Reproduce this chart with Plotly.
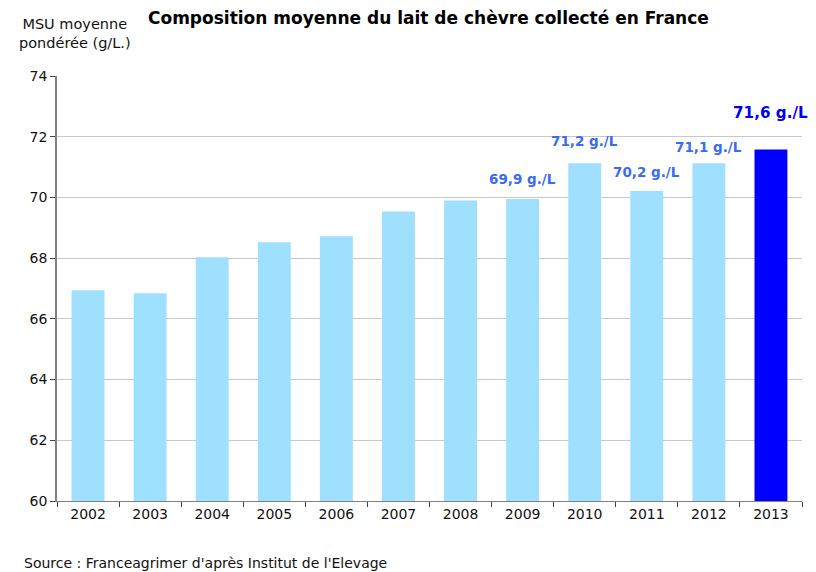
import plotly.graph_objects as go

years = ["2002", "2003", "2004", "2005", "2006", "2007", "2008", "2009", "2010", "2011", "2012", "2013"]
msu = [66.94, 66.84, 68.03, 68.52, 68.72, 69.54, 69.9, 69.95, 71.13, 70.21, 71.13, 71.58]
labels = ["", "", "", "", "", "", "", "69,9 g./L", "71,2 g./L", "70,2 g./L", "71,1 g./L", "71,6 g./L"]
y_ticks = [60, 62, 64, 66, 68, 70, 72, 74]

light = "#9FDFFF"
dark = "#0000FF"
colors = [dark if y == "2013" else light for y in years]
FONT = "DejaVu Sans, Arial"

fig = go.Figure()
fig.add_trace(go.Bar(x=years, y=msu, marker=dict(color=colors, line=dict(width=0)),
                     hoverinfo="x+y"))

shifts = {"2009": 20, "2010": 22, "2011": 19, "2012": 16, "2013": 36}
for i, (yr, v, lab) in enumerate(zip(years, msu, labels)):
    if not lab:
        continue
    big = yr == "2013"
    fig.add_annotation(x=i, y=v, xref="x", yref="y", text="<b>%s</b>" % lab,
                       showarrow=False, yshift=shifts[yr], yanchor="middle",
                       font=dict(family=FONT, size=15.2 if big else 13.5,
                                 color="#0000EE" if big else "#3A6BF0"))

fig.add_annotation(text="<b>Composition moyenne du lait de chèvre collecté en France</b>",
                   xref="paper", yref="paper", x=(428 - 57) / 745, y=(501 - 18) / 425,
                   showarrow=False, yanchor="middle", xanchor="center",
                   font=dict(family=FONT, size=17, color="#000"))
fig.add_annotation(text="MSU moyenne<br>pondérée (g/L.)", xref="paper", yref="paper",
                   x=(75 - 57) / 745, y=(501 - 33) / 425, showarrow=False,
                   xanchor="center", yanchor="middle", align="center",
                   font=dict(family=FONT, size=14.5, color="#111"))
fig.add_annotation(text="Source : Franceagrimer d'après Institut de l'Elevage", xref="paper",
                   yref="paper", x=(22 - 57) / 745, y=(501 - 563) / 425, showarrow=False,
                   xanchor="left", yanchor="middle",
                   font=dict(family=FONT, size=14, color="#111"))

# the page places the figure 8px from the top-left corner
fig.update_layout(
    width=808, height=564,
    margin=dict(l=49, r=14, t=68, b=71, autoexpand=False),
    paper_bgcolor="white", plot_bgcolor="white",
    bargap=0.47, showlegend=False,
    font=dict(family=FONT, size=14, color="#111"),
)
fig.update_xaxes(type="category", range=[-0.5, len(years) - 0.5], showline=True,
                 linecolor="#808080", linewidth=1, tickangle=0,
                 ticks="outside", tickson="boundaries", ticklen=5, tickcolor="#404040",
                 showgrid=False, tickfont=dict(family=FONT, size=14, color="#111"))
fig.update_yaxes(range=[60, 74], tickvals=y_ticks, showline=True, linecolor="#808080",
                 linewidth=1.5, ticks="outside", ticklen=5, tickcolor="#404040",
                 showgrid=True, gridcolor="#C8C8C8", gridwidth=1, zeroline=False,
                 tickfont=dict(family=FONT, size=14, color="#111"))

fig.write_html("out.html")
